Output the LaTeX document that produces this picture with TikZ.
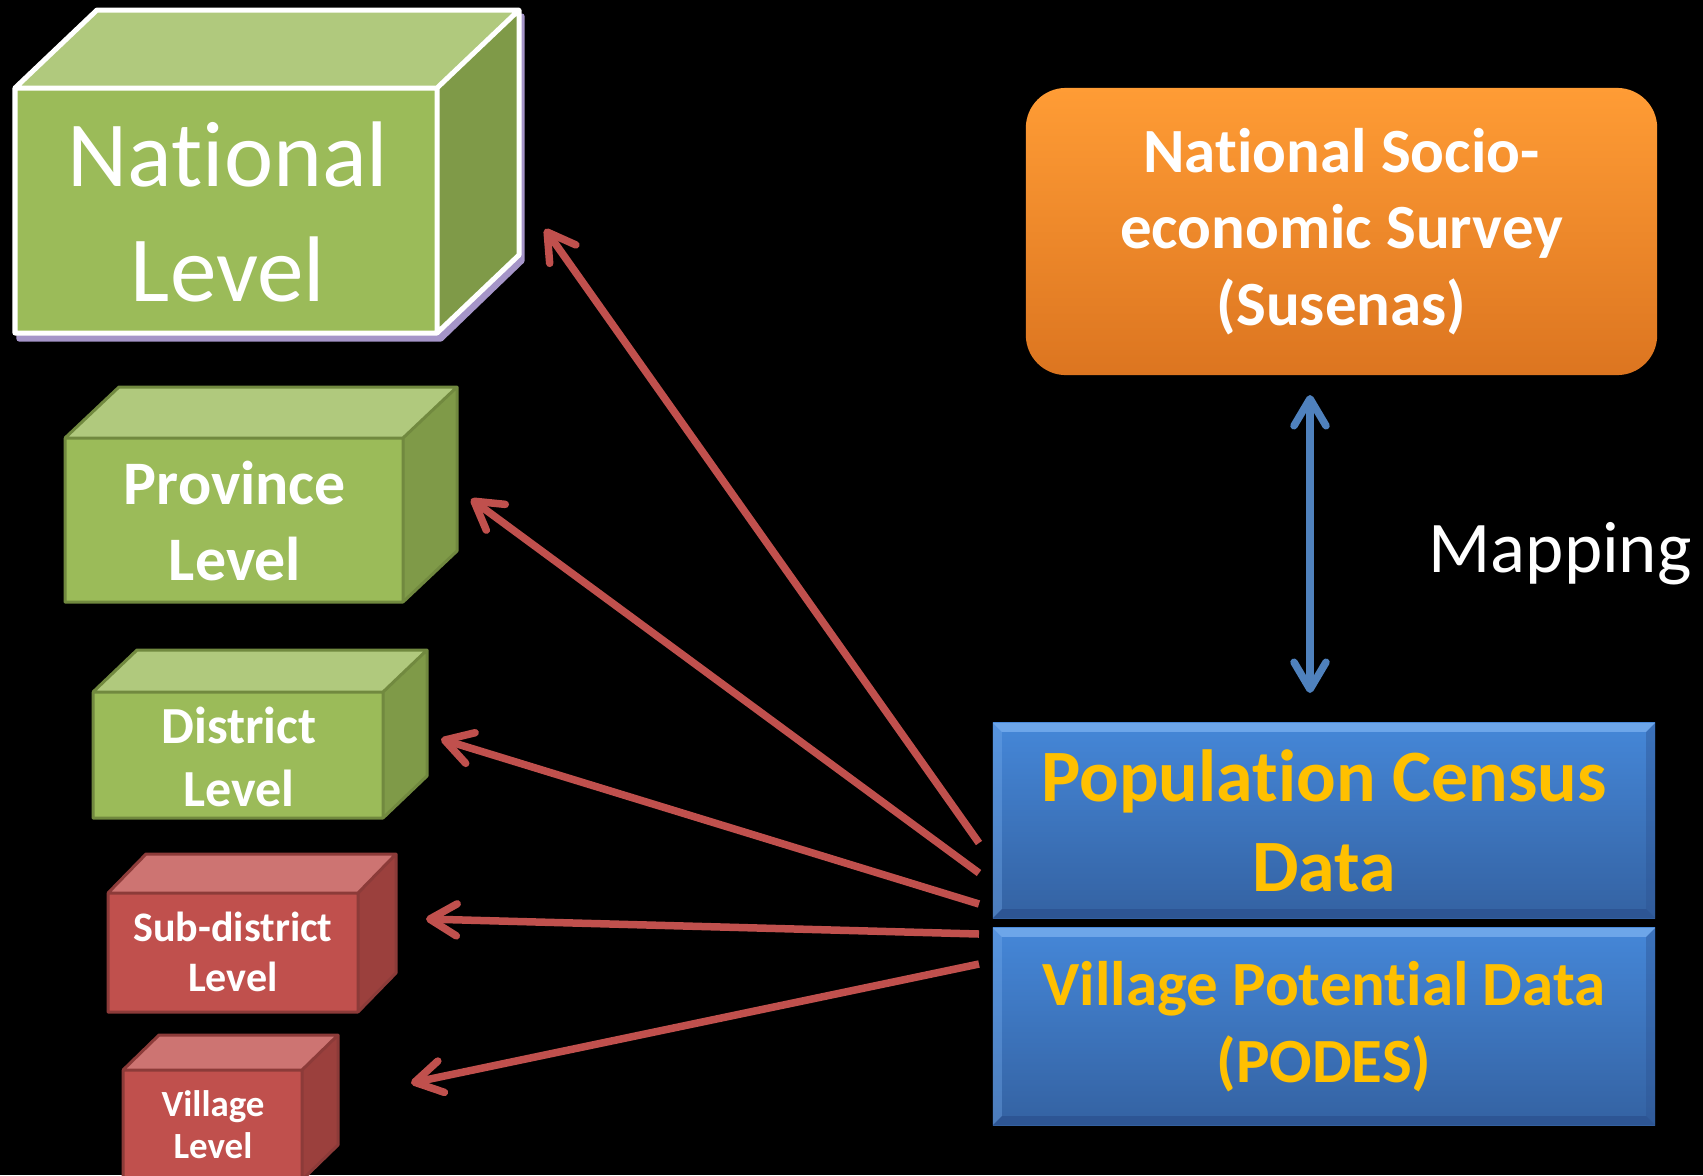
\documentclass[tikz,border=0pt]{standalone}
\usepackage{fontspec}
\setmainfont{Carlito}[Ligatures={NoCommon}]
\usetikzlibrary{arrows.meta}
\definecolor{gfront}{HTML}{9BBB59}
\definecolor{gtop}{HTML}{B0C97D}
\definecolor{gside}{HTML}{7F9A48}
\definecolor{gborder}{HTML}{71893F}
\definecolor{rfront}{HTML}{C0504D}
\definecolor{rtop}{HTML}{CD7472}
\definecolor{rside}{HTML}{9B403D}
\definecolor{rborder}{HTML}{8C3B39}
\definecolor{lilac}{HTML}{A595C8}
\definecolor{bluetop}{HTML}{4587D8}
\definecolor{bluebot}{HTML}{3462A2}
\definecolor{bevlight}{HTML}{78AEEE}
\definecolor{bevdark}{HTML}{2C5290}
\definecolor{orangetop}{HTML}{FF9C35}
\definecolor{orangebot}{HTML}{DC7520}
\definecolor{textyellow}{HTML}{FFC000}
\definecolor{arrowred}{HTML}{C0504D}
\definecolor{arrowblue}{HTML}{4F81BD}
\newcommand{\mycube}[8]{%
  \fill[#7front] (#1,#2) rectangle (#3,#4);
  \fill[#7top] (#1,#2) -- (#1+#5,#2-#6) -- (#3+#5,#2-#6) -- (#3,#2) -- cycle;
  \fill[#7side] (#3,#2) -- (#3+#5,#2-#6) -- (#3+#5,#4-#6) -- (#3,#4) -- cycle;
  \draw[#8] (#1,#2) rectangle (#3,#4)
    (#1,#2) -- (#1+#5,#2-#6) -- (#3+#5,#2-#6) -- (#3,#2)
    (#3+#5,#2-#6) -- (#3+#5,#4-#6) -- (#3,#4);
}
\begin{document}
\begin{tikzpicture}[x=0.01cm,y=-0.01cm,
  cubetext/.style={align=center, text=white, inner sep=0pt},
  gedge/.style={draw=gborder, line width=0.03cm, line join=round},
  wedge/.style={draw=white, line width=0.05cm, line join=round},
  redge/.style={draw=rborder, line width=0.03cm, line join=round},
  databox/.style={rectangle, minimum width=6.62cm, inner sep=0pt,
    top color=bluetop, bottom color=bluebot, align=center, text=textyellow,
    path picture={
      \fill[bevlight, opacity=0.8] (path picture bounding box.north west) -- (path picture bounding box.north east)
        -- ([shift={(-9,9)}]path picture bounding box.north east) -- ([shift={(9,9)}]path picture bounding box.north west) -- cycle;
      \fill[bevdark, opacity=0.8] (path picture bounding box.south west) -- (path picture bounding box.south east)
        -- ([shift={(-9,-9)}]path picture bounding box.south east) -- ([shift={(9,-9)}]path picture bounding box.south west) -- cycle;
      \fill[bevlight, opacity=0.35] (path picture bounding box.north west) -- ([shift={(9,9)}]path picture bounding box.north west)
        -- ([shift={(9,-9)}]path picture bounding box.south west) -- (path picture bounding box.south west) -- cycle;
      \fill[bevdark, opacity=0.4] (path picture bounding box.north east) -- ([shift={(-9,9)}]path picture bounding box.north east)
        -- ([shift={(-9,-9)}]path picture bounding box.south east) -- (path picture bounding box.south east) -- cycle;
    }},
  redarrow/.style={draw=arrowred, line width=0.075cm,
    -{Straight Barb[round, length=0.27cm, width=0.32cm]}},
  maparrow/.style={draw=arrowblue, line width=0.075cm,
    {Straight Barb[round, length=0.27cm, width=0.32cm]}-{Straight Barb[round, length=0.27cm, width=0.32cm]}}
]
\useasboundingbox (0,0) rectangle (1703,1175);
\fill[black] (0,0) rectangle (1703,1175);
\clip (0,0) rectangle (1703,1175);

% National level cube with lilac shadow
\filldraw[fill=lilac, draw=lilac, line width=0.05cm, line join=round]
  (19,94) -- (104,16) -- (522,16) -- (522,261) -- (441,339) -- (19,339) -- cycle;
\mycube{15}{88}{437}{333}{82}{78}{g}{wedge}
\node[cubetext, font=\fontsize{26.5}{32.8}\selectfont] (nat) at (228,212) {National\\Level};

% Province
\mycube{65}{438}{403}{602}{54}{51}{g}{gedge}
\node[cubetext, font=\bfseries\fontsize{17.6}{21.6}\selectfont] (prov) at (235,521) {Province\\Level};

% District
\mycube{93}{692}{383}{818}{44}{42}{g}{gedge}
\node[cubetext, font=\bfseries\fontsize{14.8}{17.9}\selectfont] (dist) at (239,757) {District\\Level};

% Sub-district
\mycube{108}{893}{358}{1012}{38}{39}{r}{redge}
\node[cubetext, font=\bfseries\fontsize{11.95}{14.2}\selectfont] (sub) at (233,952) {Sub-district\\Level};

% Village
\mycube{123}{1070}{302}{1180}{36}{35}{r}{redge}
\node[cubetext, font=\bfseries\fontsize{10.5}{12}\selectfont] (vil) at (213,1125) {Village\\Level};

% Susenas
\node[rounded corners=0.4cm, top color=orangetop, bottom color=orangebot,
  minimum width=6.31cm, minimum height=2.87cm, inner sep=0pt, align=center, text=white,
  font=\bfseries\fontsize{17.9}{21.8}\selectfont] (sus) at (1341.5,231.5)
  {National Socio-\\economic Survey\\(Susenas)};

% Data boxes
\node[databox, minimum height=1.95cm, font=\bfseries\fontsize{21}{25.6}\selectfont] (pcd) at (1324,820.5)
  {Population Census\\Data};
\node[databox, minimum height=1.97cm, font=\bfseries\fontsize{17.9}{21.8}\selectfont] (vpd) at (1324,1026.5)
  {Village Potential Data\\(PODES)};

% Mapping
\node[anchor=base west, inner sep=0pt, text=white, font=\fontsize{20.7}{25}\selectfont] (map) at (1428,572) {Mapping};
\coordinate (m1) at (1310,395);
\coordinate (m2) at (1310,693);
\draw[maparrow] (m1) -- (m2);

% Red arrows
\coordinate (s1) at (979,843);
\coordinate (s2) at (979,873);
\coordinate (s3) at (979,904);
\coordinate (s4) at (979,934);
\coordinate (s5) at (979,964);
\coordinate (t1) at (545,229);
\coordinate (t2) at (471,499);
\coordinate (t3) at (441,739);
\coordinate (t4) at (426,919);
\coordinate (t5) at (411,1083);
\draw[redarrow] (s1) -- (t1);
\draw[redarrow] (s2) -- (t2);
\draw[redarrow] (s3) -- (t3);
\draw[redarrow] (s4) -- (t4);
\draw[redarrow] (s5) -- (t5);
\end{tikzpicture}
\end{document}
